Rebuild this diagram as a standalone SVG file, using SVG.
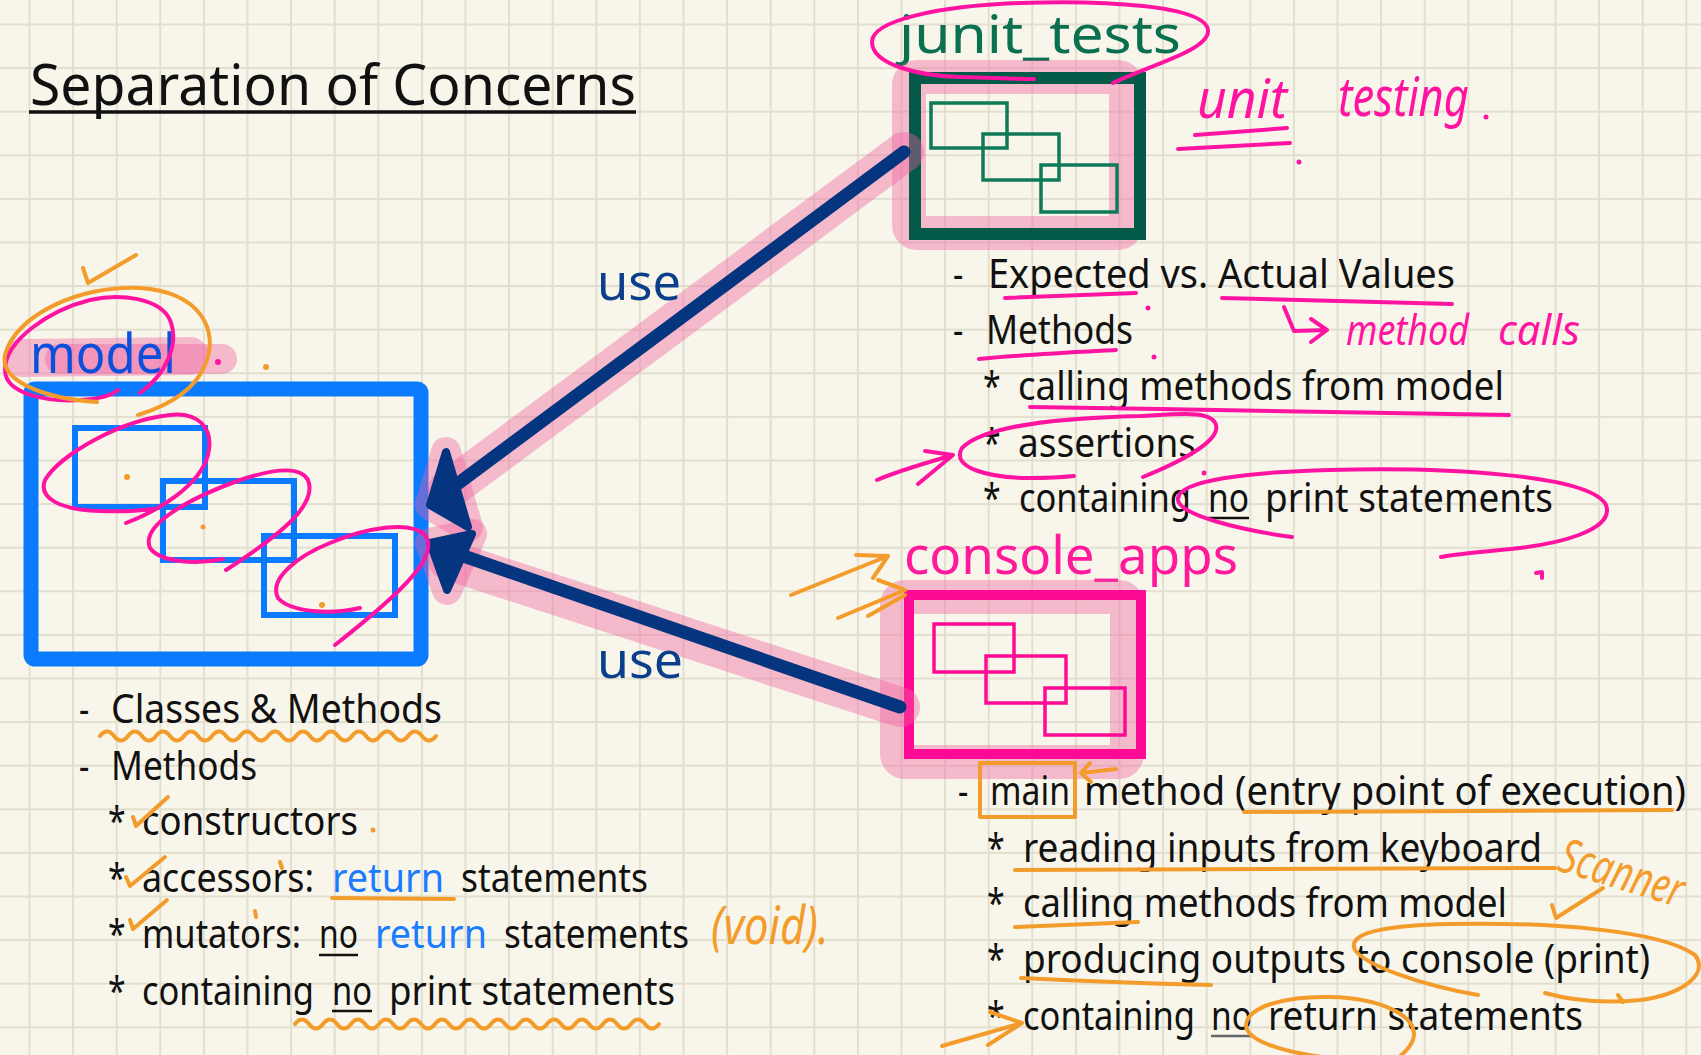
<svg xmlns="http://www.w3.org/2000/svg" width="1701" height="1055" viewBox="0 0 1701 1055">
  <defs>
    <pattern id="grid" x="28.5" y="23.5" width="43.6" height="43.6" patternUnits="userSpaceOnUse">
      <path d="M0 1H43.6M1 0V43.6" stroke="#e2dfd0" stroke-width="2" fill="none"/>
    </pattern>
    <style>
      .txt { font-family: "Noto Sans", "Open Sans", sans-serif; fill: #111; font-size: 40px; }
      .head { font-family: "Noto Sans", "Open Sans", sans-serif; font-size: 52px; }
      .hand { font-family: "Noto Sans", "Open Sans", sans-serif; font-style: italic; }
      .blue { fill: #1a7cff; }
      .ink-m { fill: none; stroke: #ff14a2; stroke-width: 4; stroke-linecap: round; stroke-linejoin: round; }
      .ink-o { fill: none; stroke: #f39c2c; stroke-width: 4; stroke-linecap: round; stroke-linejoin: round; }
      .halo { fill: none; stroke: #f0609f; stroke-opacity: 0.4; stroke-linecap: round; stroke-linejoin: round; }
      .arrow { fill: none; stroke: #05357f; stroke-width: 13; stroke-linecap: round; }
      .head-fill { fill: #05357f; stroke: #05357f; stroke-width: 8; stroke-linejoin: round; }
      .uline { stroke: #111; stroke-width: 2.5; }
    </style>
  </defs>

  <!-- paper -->
  <rect width="1701" height="1055" fill="#f8f6ea"/>
  <rect width="1701" height="1055" fill="url(#grid)"/>

  <!-- title (narrowed lettering: x coordinates are in the 0.8-scaled space) -->
  <g id="title">
    <text class="txt" transform="scale(0.8 1)" x="37.5" y="105" style="font-size:57px" textLength="757.5" lengthAdjust="spacingAndGlyphs">Separation of Concerns</text>
    <line x1="29" y1="112" x2="636" y2="112" stroke="#111" stroke-width="3.5"/>
  </g>

  <!-- model node -->
  <g id="model">
    <path d="M22,358 L190,356" class="halo" stroke-width="38"/>
    <path d="M60,359 L222,359" class="halo" stroke-width="30"/>
    <text class="head" transform="scale(0.8 1)" x="37.5" y="373" style="font-size:54px" fill="#0a50dc" textLength="182.5" lengthAdjust="spacingAndGlyphs">model</text>
    <rect x="31" y="389" width="390" height="270" rx="4" fill="none" stroke="#0a7aff" stroke-width="15"/>
    <rect x="75" y="428" width="130" height="79" fill="none" stroke="#0a7aff" stroke-width="6"/>
    <rect x="163" y="481" width="131" height="79" fill="none" stroke="#0a7aff" stroke-width="6"/>
    <rect x="264" y="536" width="131" height="79" fill="none" stroke="#0a7aff" stroke-width="6"/>
  </g>

  <!-- junit_tests node -->
  <g id="junit_tests">
    <text class="head" transform="scale(0.8 1)" x="1123.75" y="53" fill="#0b7050" textLength="352.5" lengthAdjust="spacingAndGlyphs">junit_tests</text>
    <rect x="909" y="77" width="217" height="156" rx="8" class="halo" stroke-width="34"/>
    <rect x="915" y="78" width="225" height="156" fill="none" stroke="#035a48" stroke-width="12"/>
    <rect x="931" y="103" width="76" height="45" fill="none" stroke="#0f7a58" stroke-width="3.5"/>
    <rect x="983" y="134" width="76" height="46" fill="none" stroke="#0f7a58" stroke-width="3.5"/>
    <rect x="1041" y="165" width="76" height="47" fill="none" stroke="#0f7a58" stroke-width="3.5"/>
  </g>

  <!-- console_apps node -->
  <g id="console_apps">
    <text class="head" transform="scale(0.8 1)" x="1130" y="574" fill="#ff1a9c" textLength="417.5" lengthAdjust="spacingAndGlyphs">console_apps</text>
    <rect x="897" y="597" width="230" height="165" rx="8" class="halo" stroke-width="34"/>
    <rect x="909" y="595" width="232" height="159" fill="none" stroke="#ff0a94" stroke-width="10"/>
    <rect x="934" y="624" width="80" height="48" fill="none" stroke="#ff0a94" stroke-width="3.5"/>
    <rect x="986" y="656" width="80" height="47" fill="none" stroke="#ff0a94" stroke-width="3.5"/>
    <rect x="1045" y="688" width="80" height="47" fill="none" stroke="#ff0a94" stroke-width="3.5"/>
  </g>

  <!-- connectors: both apps use the model -->
  <g id="connectors">
    <path d="M904,152 L448,490" class="halo" stroke-width="40"/>
    <path d="M900,707 L448,560" class="halo" stroke-width="40"/>
    <polygon points="446,452 430,505 468,527" class="halo" stroke-width="30" fill="#f0609f" fill-opacity="0.4"/>
    <polygon points="472,534 430,543 447,590" class="halo" stroke-width="30" fill="#f0609f" fill-opacity="0.4"/>
    <path d="M904,152 L452,488" class="arrow"/>
    <path d="M900,707 L452,552" class="arrow"/>
    <polygon points="446,452 430,505 468,527" class="head-fill"/>
    <polygon points="472,534 430,543 447,590" class="head-fill"/>
    <text class="head" transform="scale(0.8 1)" x="746.25" y="300" style="font-size:50px" fill="#0b3f8c" textLength="105" lengthAdjust="spacingAndGlyphs">use</text>
    <text class="head" transform="scale(0.8 1)" x="746.25" y="678" style="font-size:50px" fill="#0b3f8c" textLength="107.5" lengthAdjust="spacingAndGlyphs">use</text>
  </g>

  <!-- model notes -->
  <g id="model-notes">
    <g transform="scale(0.8 1)">
      <text class="txt" x="98.75" y="723">-</text>
      <text class="txt" x="138.75" y="723" textLength="413.75" lengthAdjust="spacingAndGlyphs">Classes &amp; Methods</text>
      <text class="txt" x="98.75" y="780">-</text>
      <text class="txt" x="138.75" y="780" textLength="182.5" lengthAdjust="spacingAndGlyphs">Methods</text>
      <text class="txt" x="135" y="835">*</text>
      <text class="txt" x="177.5" y="835" textLength="270" lengthAdjust="spacingAndGlyphs">constructors</text>
      <text class="txt" x="135" y="892">*</text>
      <text class="txt" x="177.5" y="892" textLength="215" lengthAdjust="spacingAndGlyphs">accessors:</text>
      <text class="txt blue" x="415" y="892" textLength="140" lengthAdjust="spacingAndGlyphs">return</text>
      <text class="txt" x="576.25" y="892" textLength="233.75" lengthAdjust="spacingAndGlyphs">statements</text>
      <text class="txt" x="135" y="948">*</text>
      <text class="txt" x="177.5" y="948" textLength="198.75" lengthAdjust="spacingAndGlyphs">mutators:</text>
      <text class="txt" x="398.75" y="948" textLength="48.75" lengthAdjust="spacingAndGlyphs">no</text>
      <text class="txt blue" x="468.75" y="948" textLength="140" lengthAdjust="spacingAndGlyphs">return</text>
      <text class="txt" x="630" y="948" textLength="231.25" lengthAdjust="spacingAndGlyphs">statements</text>
      <text class="txt" x="135" y="1005">*</text>
      <text class="txt" x="177.5" y="1005" textLength="215" lengthAdjust="spacingAndGlyphs">containing</text>
      <text class="txt" x="415" y="1005" textLength="50" lengthAdjust="spacingAndGlyphs">no</text>
      <text class="txt" x="486.25" y="1005" textLength="357.5" lengthAdjust="spacingAndGlyphs">print statements</text>
    </g>
    <line x1="319" y1="955" x2="358" y2="955" class="uline"/>
    <line x1="332" y1="1011" x2="372" y2="1011" class="uline"/>
  </g>

  <!-- junit notes -->
  <g id="junit-notes">
    <g transform="scale(0.8 1)">
      <text class="txt" x="1191.25" y="288">-</text>
      <text class="txt" x="1235" y="288" textLength="583.75" lengthAdjust="spacingAndGlyphs">Expected vs. Actual Values</text>
      <text class="txt" x="1191.25" y="344">-</text>
      <text class="txt" x="1232.5" y="344" textLength="183.75" lengthAdjust="spacingAndGlyphs">Methods</text>
      <text class="txt" x="1228.75" y="400">*</text>
      <text class="txt" x="1272.5" y="400" textLength="607.5" lengthAdjust="spacingAndGlyphs">calling methods from model</text>
      <text class="txt" x="1228.75" y="457">*</text>
      <text class="txt" x="1272.5" y="457" textLength="222.5" lengthAdjust="spacingAndGlyphs">assertions</text>
      <text class="txt" x="1228.75" y="512">*</text>
      <text class="txt" x="1273.75" y="512" textLength="215" lengthAdjust="spacingAndGlyphs">containing</text>
      <text class="txt" x="1510" y="512" textLength="51.25" lengthAdjust="spacingAndGlyphs">no</text>
      <text class="txt" x="1581.25" y="512" textLength="360" lengthAdjust="spacingAndGlyphs">print statements</text>
    </g>
    <line x1="1208" y1="518" x2="1249" y2="518" class="uline"/>
  </g>

  <!-- console notes -->
  <g id="console-notes">
    <g transform="scale(0.8 1)">
      <text class="txt" x="1197.5" y="805">-</text>
      <text class="txt" x="1237.5" y="805" textLength="100" lengthAdjust="spacingAndGlyphs">main</text>
      <text class="txt" x="1355" y="805" textLength="752.5" lengthAdjust="spacingAndGlyphs">method (entry point of execution)</text>
      <text class="txt" x="1233.75" y="862">*</text>
      <text class="txt" x="1278.75" y="862" textLength="648.75" lengthAdjust="spacingAndGlyphs">reading inputs from keyboard</text>
      <text class="txt" x="1233.75" y="917">*</text>
      <text class="txt" x="1278.75" y="917" textLength="605" lengthAdjust="spacingAndGlyphs">calling methods from model</text>
      <text class="txt" x="1233.75" y="973">*</text>
      <text class="txt" x="1278.75" y="973" textLength="783.75" lengthAdjust="spacingAndGlyphs">producing outputs to console (print)</text>
      <text class="txt" x="1233.75" y="1030">*</text>
      <text class="txt" x="1278.75" y="1030" textLength="215" lengthAdjust="spacingAndGlyphs">containing</text>
      <text class="txt" x="1513.75" y="1030" textLength="51.25" lengthAdjust="spacingAndGlyphs">no</text>
      <text class="txt" x="1585" y="1030" textLength="393.75" lengthAdjust="spacingAndGlyphs">return statements</text>
    </g>
    <line x1="1211" y1="1036" x2="1252" y2="1036" stroke="#666" stroke-width="2.5"/>
  </g>

  <!-- magenta pen marks -->
  <g id="magenta-marks">
    <path class="ink-m" d="M140,393 C165,375 180,345 170,320 C160,298 120,293 90,300 C50,310 5,340 5,370 C5,395 50,402 80,400 C100,399 112,395 118,390"/>
    <circle cx="218" cy="362" r="3" fill="#ff14a2"/>
    <path class="ink-m" d="M126,523 C160,510 200,485 208,455 C215,425 195,412 170,415 C120,420 60,455 45,480 C38,498 60,510 100,511 C125,512 145,510 152,509"/>
    <path class="ink-m" d="M223,559 C195,565 160,562 150,548 C140,525 190,498 240,480 C270,470 300,465 308,480 C318,505 280,535 226,570"/>
    <path class="ink-m" d="M360,608 C330,615 290,612 278,598 C268,578 300,555 330,543 C365,528 410,520 425,535 C440,555 405,590 335,645"/>
    <path class="ink-m" d="M1113,83 C1150,65 1210,50 1208,30 C1205,5 1100,0 1020,3 C940,6 872,20 872,42 C872,65 920,76 960,77 C990,78 1020,79 1034,79"/>
    <text class="hand" transform="scale(0.8 1)" x="1496.25" y="118" style="font-size:54px" fill="#ff14a2" textLength="112.5" lengthAdjust="spacingAndGlyphs">unit</text>
    <text class="hand" transform="scale(0.8 1)" x="1672.5" y="116" style="font-size:54px" fill="#ff14a2" textLength="163.75" lengthAdjust="spacingAndGlyphs">testing</text>
    <path class="ink-m" d="M1195,135 L1287,128"/>
    <path class="ink-m" d="M1178,149 L1290,143"/>
    <circle cx="1299" cy="162" r="2.5" fill="#ff14a2"/>
    <circle cx="1486" cy="117" r="2.5" fill="#ff14a2"/>
    <path class="ink-m" d="M1005,298 L1136,293"/>
    <path class="ink-m" d="M1222,298 C1300,300 1400,302 1452,304"/>
    <path class="ink-m" d="M979,359 C1020,355 1080,352 1116,350"/>
    <circle cx="1148" cy="308" r="2.5" fill="#ff14a2"/>
    <circle cx="1154" cy="357" r="2.5" fill="#ff14a2"/>
    <path class="ink-m" d="M1284,307 L1294,331 L1327,330 M1311,319 L1327,330 L1311,342"/>
    <text class="hand" transform="scale(0.8 1)" x="1682.5" y="345" style="font-size:42px" fill="#ff14a2" textLength="153.75" lengthAdjust="spacingAndGlyphs">method</text>
    <text class="hand" transform="scale(0.8 1)" x="1872.5" y="345" style="font-size:42px" fill="#ff14a2" textLength="102.5" lengthAdjust="spacingAndGlyphs">calls</text>
    <path class="ink-m" d="M1030,407 C1200,410 1400,412 1509,415"/>
    <path class="ink-m" d="M1143,477 C1185,460 1220,440 1216,425 C1212,410 1180,414 1140,416 C1060,418 985,425 962,448 C950,468 990,478 1030,478 C1050,478 1065,477 1074,476"/>
    <path class="ink-m" d="M877,480 C900,470 930,462 953,455 M925,451 L953,455 L918,484"/>
    <path class="ink-m" d="M1292,537 C1240,530 1180,515 1178,500 C1176,480 1250,472 1330,470 C1450,467 1590,475 1606,505 C1615,530 1560,545 1500,550 C1470,553 1450,555 1441,557"/>
    <circle cx="1204" cy="473" r="2.5" fill="#ff14a2"/>
    <path class="ink-m" d="M1536,573 L1542,572 L1542,578"/>
  </g>

  <!-- orange pen marks -->
  <g id="orange-marks">
    <path class="ink-o" d="M83,268 L88,283 L136,255"/>
    <path class="ink-o" d="M97,402 C40,398 0,380 5,355 C15,315 80,285 140,288 C200,292 220,330 205,365 C195,390 170,405 138,415"/>
    <circle cx="266" cy="367" r="3" fill="#f39c2c"/>
    <circle cx="127" cy="477" r="3" fill="#f39c2c"/>
    <circle cx="203" cy="527" r="2.5" fill="#f39c2c"/>
    <circle cx="322" cy="605" r="3" fill="#f39c2c"/>
    <path class="ink-o" d="M100,736 q7,-9 14,0 t14,0 t14,0 t14,0 t14,0 t14,0 t14,0 t14,0 t14,0 t14,0 t14,0 t14,0 t14,0 t14,0 t14,0 t14,0 t14,0 t14,0 t14,0 t14,0 t14,0 t14,0 t14,0 t14,0"/>
    <path class="ink-o" d="M133,817 L136,826 L168,797"/>
    <circle cx="373" cy="830" r="2.5" fill="#f39c2c"/>
    <path class="ink-o" d="M126,877 L130,886 L165,857"/>
    <path class="ink-o" d="M280,862 L282,868"/>
    <path class="ink-o" d="M332,898 L454,899"/>
    <path class="ink-o" d="M130,920 L133,929 L167,900"/>
    <path class="ink-o" d="M255,911 L256,917"/>
    <text class="hand" transform="scale(0.8 1)" x="888.75" y="944" style="font-size:52px" fill="#f39c2c" textLength="147.5" lengthAdjust="spacingAndGlyphs">(void).</text>
    <path class="ink-o" d="M295,1024 q7,-9 14,0 t14,0 t14,0 t14,0 t14,0 t14,0 t14,0 t14,0 t14,0 t14,0 t14,0 t14,0 t14,0 t14,0 t14,0 t14,0 t14,0 t14,0 t14,0 t14,0 t14,0 t14,0 t14,0 t14,0 t14,0 t14,0"/>
    <path class="ink-o" d="M791,595 L888,556 M856,555 L888,556 L873,578"/>
    <path class="ink-o" d="M838,618 L905,590 M868,616 L905,595 M878,580 L905,590"/>
    <rect x="980" y="763" width="95" height="54" class="ink-o"/>
    <path class="ink-o" d="M1116,769 L1081,773 M1090,763 L1081,773 L1091,782"/>
    <path class="ink-o" d="M1244,812 L1672,810"/>
    <path class="ink-o" d="M1015,870 L1555,868"/>
    <text class="hand" transform="translate(1556,870) rotate(17) scale(0.8 1)" style="font-size:48px" fill="#f39c2c" textLength="160" lengthAdjust="spacingAndGlyphs">Scanner</text>
    <path class="ink-o" d="M1552,905 L1556,918 L1603,888"/>
    <path class="ink-o" d="M1015,927 L1138,922"/>
    <path class="ink-o" d="M1021,978 C1100,982 1170,984 1211,985"/>
    <path class="ink-o" d="M1478,995 C1420,985 1365,965 1355,950 C1345,930 1400,925 1450,924 C1550,922 1660,930 1695,955 C1710,975 1680,995 1640,1000 C1600,1004 1570,1000 1545,993"/>
    <path class="ink-o" d="M1618,995 L1623,1002"/>
    <path class="ink-o" d="M942,1046 L1022,1023 M990,1012 L1022,1023 L988,1045"/>
    <path class="ink-o" d="M1330,1058 C1280,1052 1246,1040 1246,1025 C1248,1005 1290,996 1330,997 C1380,998 1415,1015 1414,1035 C1413,1045 1405,1052 1398,1058"/>
  </g>
</svg>
